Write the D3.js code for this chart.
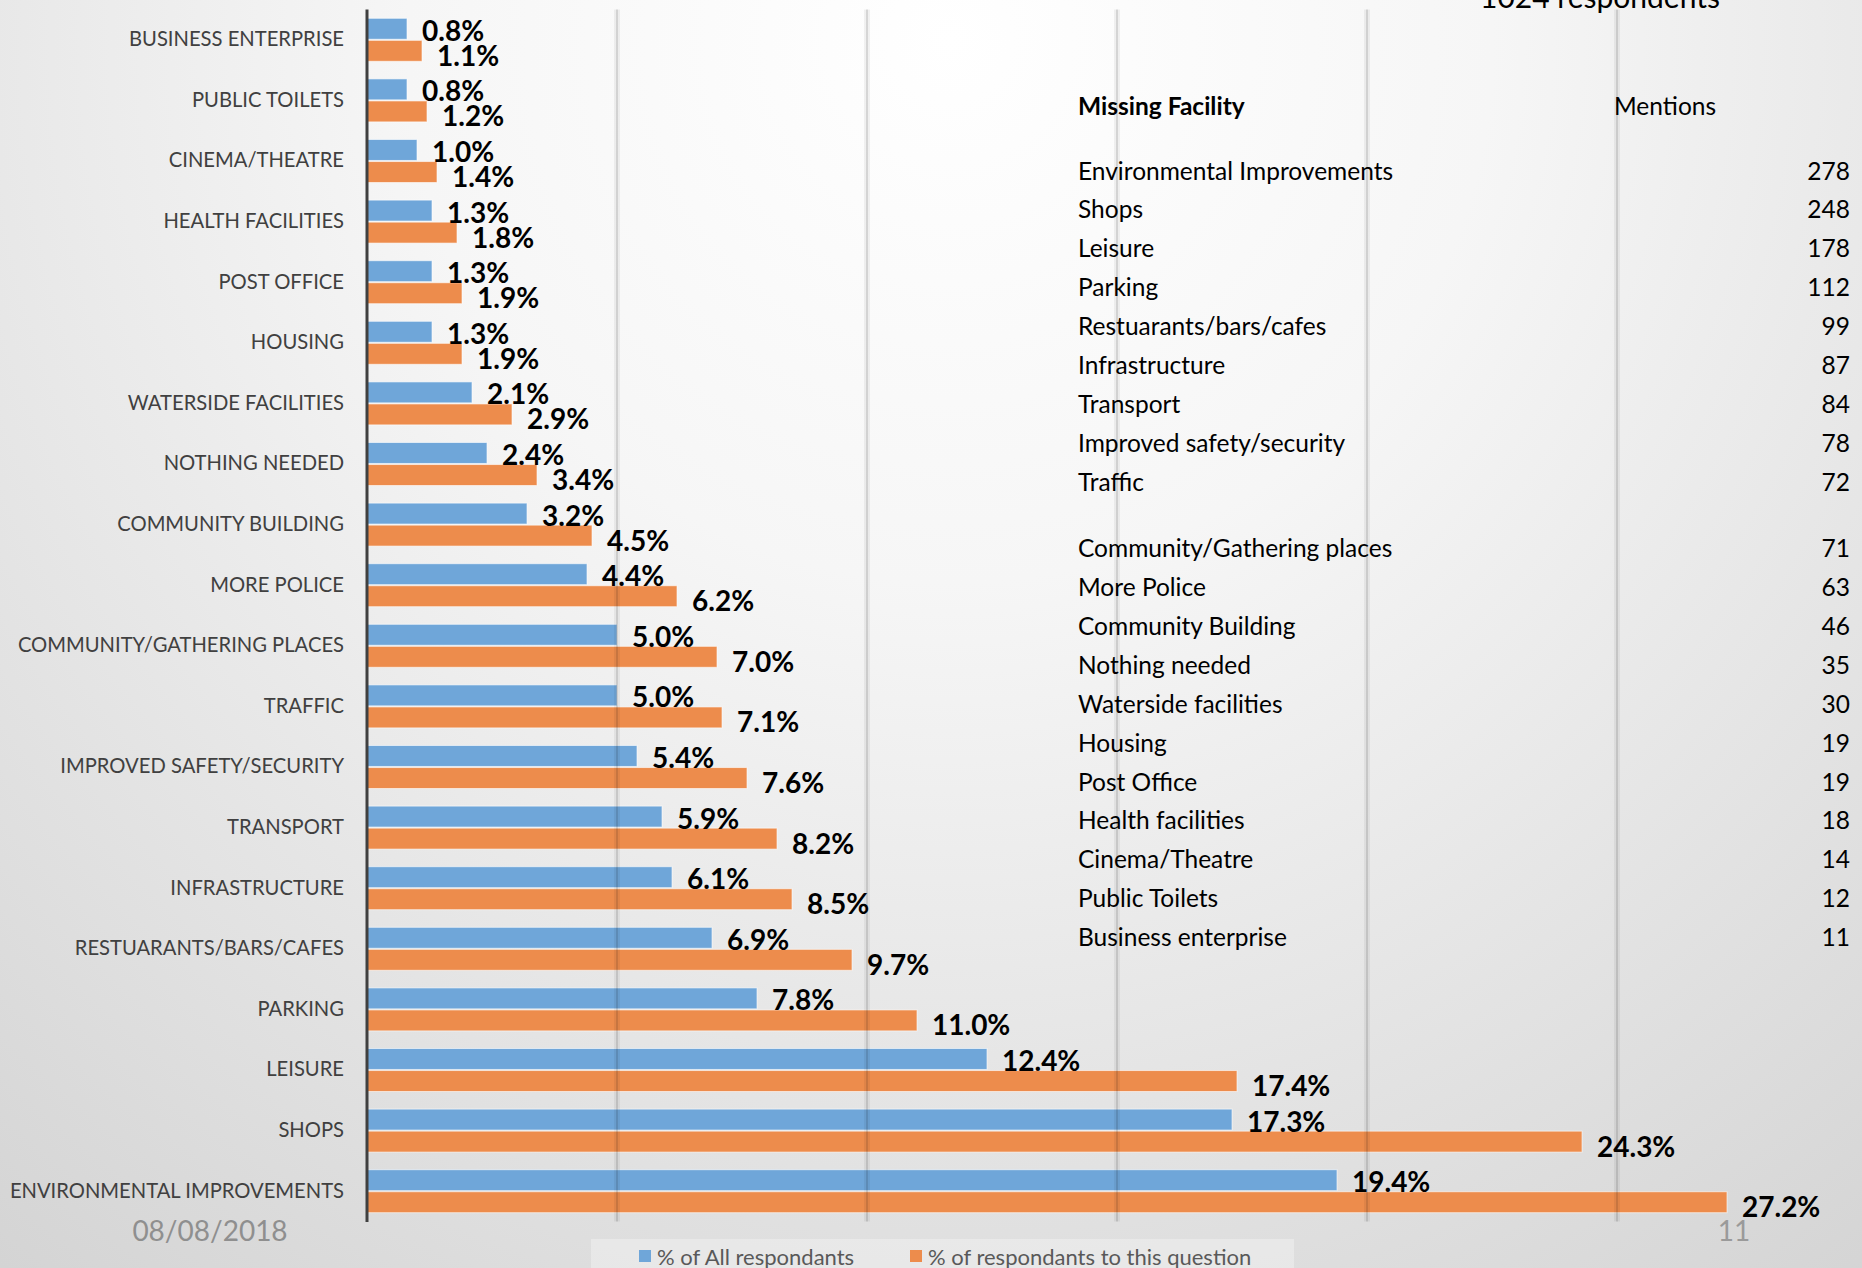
<!DOCTYPE html>
<html>
<head>
<meta charset="utf-8">
<script src="https://cdn.jsdelivr.net/npm/d3@7"></script>
<style>
  html, body { margin: 0; padding: 0; overflow: hidden; }
  body { width: 1862px; height: 1268px; }
  text { font-family: Lato, "Open Sans", sans-serif; }
</style>
</head>
<body>
<svg id="chart" width="1862" height="1268"></svg>
<script>
// categories, top to bottom as in the chart
var categories = [
  "BUSINESS ENTERPRISE", "PUBLIC TOILETS", "CINEMA/THEATRE", "HEALTH FACILITIES",
  "POST OFFICE", "HOUSING", "WATERSIDE FACILITIES", "NOTHING NEEDED",
  "COMMUNITY BUILDING", "MORE POLICE", "COMMUNITY/GATHERING PLACES", "TRAFFIC",
  "IMPROVED SAFETY/SECURITY", "TRANSPORT", "INFRASTRUCTURE", "RESTUARANTS/BARS/CAFES",
  "PARKING", "LEISURE", "SHOPS", "ENVIRONMENTAL IMPROVEMENTS"
];

// % of all respondants
var pctAll = [0.8, 0.8, 1.0, 1.3, 1.3, 1.3, 2.1, 2.4, 3.2, 4.4,
              5.0, 5.0, 5.4, 5.9, 6.1, 6.9, 7.8, 12.4, 17.3, 19.4];

// % of respondants to this question
var pctQuestion = [1.1, 1.2, 1.4, 1.8, 1.9, 1.9, 2.9, 3.4, 4.5, 6.2,
                   7.0, 7.1, 7.6, 8.2, 8.5, 9.7, 11.0, 17.4, 24.3, 27.2];

var seriesNames = ["% of All respondants", "% of respondants to this question"];

// side table
var facilities = [
  "Environmental Improvements", "Shops", "Leisure", "Parking", "Restuarants/bars/cafes",
  "Infrastructure", "Transport", "Improved safety/security", "Traffic",
  "Community/Gathering places", "More Police", "Community Building", "Nothing needed",
  "Waterside facilities", "Housing", "Post Office", "Health facilities",
  "Cinema/Theatre", "Public Toilets", "Business enterprise"
];
var mentions = [278, 248, 178, 112, 99, 87, 84, 78, 72,
                71, 63, 46, 35, 30, 19, 19, 18, 14, 12, 11];

var title = "1024 respondents";
var dateText = "08/08/2018";
var pageNo = "11";

var svg = d3.select("#chart"),
    width = +svg.attr("width"),
    height = +svg.attr("height");

var colors = ["#6fa6d9", "#ed8c4c"];

// background gradient like the slide
var defs = svg.append("defs");
var grad = defs.append("radialGradient")
    .attr("id", "bg")
    .attr("gradientUnits", "userSpaceOnUse")
    .attr("cx", 950).attr("cy", 40).attr("r", 1550);
grad.append("stop").attr("offset", 0).attr("stop-color", "#ffffff");
grad.append("stop").attr("offset", 0.35).attr("stop-color", "#f6f6f6");
grad.append("stop").attr("offset", 1).attr("stop-color", "#d4d4d4");

svg.append("rect")
    .attr("width", width).attr("height", height)
    .attr("fill", "url(#bg)");

// scales
var x = d3.scaleLinear().domain([0, 30]).range([367, 1867]);
var y = d3.scaleBand().domain(categories).range([9.5, 1221.5]);
var yb = d3.scaleBand().domain([0, 1]).range([0, y.bandwidth()])
    .paddingOuter(0.4).paddingInner(0.05);

var rows = categories.map((c, i) => ({cat: c, values: [pctAll[i], pctQuestion[i]]}));

// bars
var group = svg.append("g").selectAll("g")
    .data(rows)
    .join("g")
    .attr("transform", d => "translate(0," + y(d.cat) + ")");

group.selectAll("rect")
    .data(d => d.values.map((v, k) => ({v: v, k: k})))
    .join("rect")
    .attr("x", x(0))
    .attr("y", d => yb(d.k))
    .attr("width", d => x(d.v) - x(0))
    .attr("height", yb.bandwidth())
    .attr("fill", d => colors[d.k])
    .attr("stroke", "rgba(255,255,255,0.6)")
    .attr("stroke-width", 1);

// gridlines (drawn over bars, soft shadow look)
var gridTicks = x.ticks(6).filter(t => t > 0 && t < 30);
var grid = svg.append("g");
grid.selectAll("line.halo")
    .data(gridTicks)
    .join("line")
    .attr("class", "halo")
    .attr("x1", d => x(d)).attr("x2", d => x(d))
    .attr("y1", 9.5).attr("y2", 1221.5)
    .attr("stroke", "rgba(0,0,0,0.05)")
    .attr("stroke-width", 6);
grid.selectAll("line.core")
    .data(gridTicks)
    .join("line")
    .attr("class", "core")
    .attr("x1", d => x(d)).attr("x2", d => x(d))
    .attr("y1", 9.5).attr("y2", 1221.5)
    .attr("stroke", "rgba(0,0,0,0.11)")
    .attr("stroke-width", 2);

// value labels
group.selectAll("text.val")
    .data(d => d.values.map((v, k) => ({v: v, k: k})))
    .join("text")
    .attr("class", "val")
    .attr("x", d => x(d.v) + 15)
    .attr("y", d => yb(d.k) + yb.bandwidth() / 2 + (d.k ? 4 : 1))
    .attr("dominant-baseline", "central")
    .attr("font-size", 28)
    .attr("font-weight", "bold")
    .attr("fill", "#000")
    .text(d => d.v.toFixed(1) + "%");

// category axis
var yAxis = svg.append("g")
    .attr("transform", "translate(" + x(0) + ",0)")
    .call(d3.axisLeft(y).tickSize(0).tickPadding(23));
yAxis.select(".domain").attr("stroke", "#404040").attr("stroke-width", 3)
    .attr("d", "M0," + 9.5 + "V" + 1222);
yAxis.selectAll("text")
    .attr("font-family", "Lato, sans-serif")
    .attr("font-size", 20.2)
    .attr("fill", "#404040");

// title, cut off at the top
svg.append("text")
    .attr("x", 1600).attr("y", 8)
    .attr("text-anchor", "middle")
    .attr("font-size", 30)
    .attr("fill", "#000")
    .text(title);

// table
var ty = i => 170 + i * 38.9 + (i >= 9 ? 27.5 : 0);
svg.append("text")
    .attr("x", 1078).attr("y", 105)
    .attr("dominant-baseline", "central")
    .attr("font-size", 24.5).attr("font-weight", "bold")
    .text("Missing Facility");
svg.append("text")
    .attr("x", 1614).attr("y", 105)
    .attr("dominant-baseline", "central")
    .attr("font-size", 24.5)
    .text("Mentions");

var table = svg.append("g");
table.selectAll("text.name")
    .data(facilities)
    .join("text")
    .attr("class", "name")
    .attr("x", 1078)
    .attr("y", (d, i) => ty(i))
    .attr("dominant-baseline", "central")
    .attr("font-size", 24.5)
    .text(d => d);
table.selectAll("text.num")
    .data(mentions)
    .join("text")
    .attr("class", "num")
    .attr("x", 1850)
    .attr("y", (d, i) => ty(i))
    .attr("text-anchor", "end")
    .attr("dominant-baseline", "central")
    .attr("font-size", 24.5)
    .text(d => d);

// footer
svg.append("text")
    .attr("x", 210).attr("y", 1230)
    .attr("text-anchor", "middle")
    .attr("dominant-baseline", "central")
    .attr("font-size", 28).attr("fill", "#8f8f8f")
    .text(dateText);
svg.append("text")
    .attr("x", 1734).attr("y", 1230)
    .attr("text-anchor", "middle")
    .attr("dominant-baseline", "central")
    .attr("font-size", 28).attr("fill", "#9a9a9a")
    .text(pageNo);

// legend
var legend = svg.append("g");
legend.append("rect")
    .attr("x", 591).attr("y", 1239)
    .attr("width", 703).attr("height", 40)
    .attr("fill", "rgba(255,255,255,0.3)");
var legX = [639, 910];
var items = legend.selectAll("g")
    .data(seriesNames)
    .join("g")
    .attr("transform", (d, i) => "translate(" + legX[i] + ",1256)");
items.append("rect")
    .attr("x", 0).attr("y", -6)
    .attr("width", 12).attr("height", 12)
    .attr("fill", (d, i) => colors[i]);
items.append("text")
    .attr("x", 18)
    .attr("dominant-baseline", "central")
    .attr("font-size", 22)
    .attr("fill", "#595959")
    .text(d => d);
</script>
</body>
</html>
